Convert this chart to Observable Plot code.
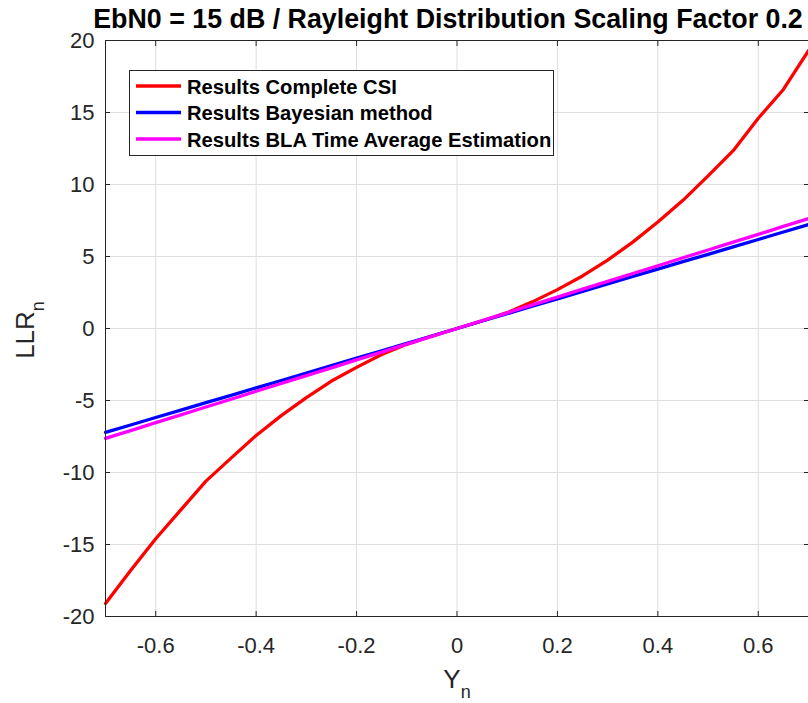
<!DOCTYPE html>
<html>
<head>
<meta charset="utf-8">
<script src="https://cdn.jsdelivr.net/npm/d3@7"></script>
<script src="https://cdn.jsdelivr.net/npm/@observablehq/plot@0.6"></script>
<style>
  html, body { margin: 0; padding: 0; background: #fff; }
  #chart svg { display: block; }
</style>
</head>
<body>
<div id="chart"></div>
<script>
const title = "EbN0 = 15 dB / Rayleight Distribution Scaling Factor 0.2";
const seriesNames = ["Results Complete CSI", "Results Bayesian method", "Results BLA Time Average Estimation"];
const seriesColors = ["#ff0000", "#0000ff", "#ff00ff"];
const xTicks = [-0.6, -0.4, -0.2, 0, 0.2, 0.4, 0.6];
const yTicks = [-20, -15, -10, -5, 0, 5, 10, 15, 20];

const yn = [-0.7, -0.65, -0.6, -0.55, -0.5, -0.45, -0.4, -0.35, -0.3, -0.25, -0.2, -0.15, -0.1, -0.05, 0,
            0.05, 0.1, 0.15, 0.2, 0.25, 0.3, 0.35, 0.4, 0.45, 0.5, 0.55, 0.6, 0.65, 0.7];
const llrCSI = [-19.1, -16.8, -14.6, -12.6, -10.6, -9.0, -7.43, -6.05, -4.8, -3.65, -2.7, -1.8, -1.1, -0.52, 0,
                0.52, 1.1, 1.85, 2.7, 3.65, 4.75, 6.0, 7.4, 8.9, 10.6, 12.35, 14.6, 16.6, 19.3];
const llrBayes = [-7.21, -6.70, -6.18, -5.67, -5.15, -4.64, -4.12, -3.61, -3.09, -2.58, -2.06, -1.55, -1.03, -0.52, 0,
                  0.52, 1.03, 1.55, 2.06, 2.58, 3.09, 3.61, 4.12, 4.64, 5.15, 5.67, 6.18, 6.70, 7.21];
const llrBLA = [-7.63, -7.09, -6.54, -6.00, -5.45, -4.91, -4.36, -3.82, -3.27, -2.73, -2.18, -1.64, -1.09, -0.55, 0,
                0.55, 1.09, 1.64, 2.18, 2.73, 3.27, 3.82, 4.36, 4.91, 5.45, 6.00, 6.54, 7.09, 7.63];

const allSeries = [llrCSI, llrBayes, llrBLA];
const data = allSeries.flatMap((vals, s) => yn.map((x, i) => ({x, y: vals[i], s: seriesNames[s]})));

const W = 808, H = 703;
const mL = 105, mR = 0, mT = 40, mB = 87;
const axisColor = "#262626";
const FONT = "Liberation Sans, Arial, Helvetica, sans-serif";

const chart = Plot.plot({
  width: W, height: H,
  marginLeft: mL, marginRight: mR, marginTop: mT, marginBottom: mB,
  style: {fontFamily: FONT, fontSize: "22px", color: axisColor, background: "#fff"},
  x: {domain: [-0.7, 0.7]},
  y: {domain: [-20, 20]},
  color: {domain: seriesNames, range: seriesColors},
  marks: [
    Plot.gridX(xTicks, {stroke: "#dedede", strokeOpacity: 1}),
    Plot.gridY(yTicks, {stroke: "#dedede", strokeOpacity: 1}),
    Plot.line(data, {x: "x", y: "y", z: "s", stroke: "s", strokeWidth: 3.3, strokeLinejoin: "round"}),
    Plot.frame({stroke: axisColor, strokeWidth: 1}),
    Plot.axisX(xTicks, {anchor: "bottom", tickSize: -5, tickPadding: 26, label: null, stroke: axisColor, fill: axisColor, tickFormat: d => String(d)}),
    Plot.axisX(xTicks, {anchor: "top", tickSize: -5, label: null, stroke: axisColor, tickFormat: () => ""}),
    Plot.axisY(yTicks, {anchor: "left", tickSize: -5, tickPadding: 16, label: null, stroke: axisColor, fill: axisColor, tickFormat: d => String(d)}),
    Plot.axisY(yTicks, {anchor: "right", tickSize: -5, label: null, stroke: axisColor, tickFormat: () => ""})
  ]
});

const svg = d3.select(chart);

// Title
svg.append("text")
  .attr("x", 448).attr("y", 28)
  .attr("text-anchor", "middle")
  .attr("font-family", FONT)
  .attr("font-weight", "bold")
  .attr("font-size", 26.8)
  .attr("fill", "#000")
  .text(title);

// X axis label Y_n
const xl = svg.append("text")
  .attr("x", 457).attr("y", 688)
  .attr("text-anchor", "middle")
  .attr("font-family", FONT)
  .attr("font-size", 26)
  .attr("fill", axisColor);
xl.append("tspan").text("Y");
xl.append("tspan").attr("font-size", 18).attr("dy", 10).text("n");

// Y axis label LLR_n
const yl = svg.append("text")
  .attr("transform", "translate(34,330) rotate(-90)")
  .attr("text-anchor", "middle")
  .attr("font-family", FONT)
  .attr("font-size", 26)
  .attr("fill", axisColor);
yl.append("tspan").text("LLR");
yl.append("tspan").attr("font-size", 18).attr("dy", 10).text("n");

// Legend
const lg = svg.append("g");
lg.append("rect")
  .attr("x", 129.5).attr("y", 70.5).attr("width", 424).attr("height", 85)
  .attr("fill", "#fff").attr("stroke", axisColor).attr("stroke-width", 1);
seriesNames.forEach((name, i) => {
  const cy = 86 + i * 26.5;
  lg.append("line")
    .attr("x1", 136).attr("x2", 181).attr("y1", cy).attr("y2", cy)
    .attr("stroke", seriesColors[i]).attr("stroke-width", 3.3);
  lg.append("text")
    .attr("x", 187).attr("y", cy + 7.5)
    .attr("text-anchor", "start")
    .attr("font-family", FONT)
    .attr("font-weight", "bold")
    .attr("font-size", 20.2)
    .attr("fill", "#000")
    .text(name);
});

document.getElementById("chart").appendChild(chart);
</script>
</body>
</html>
